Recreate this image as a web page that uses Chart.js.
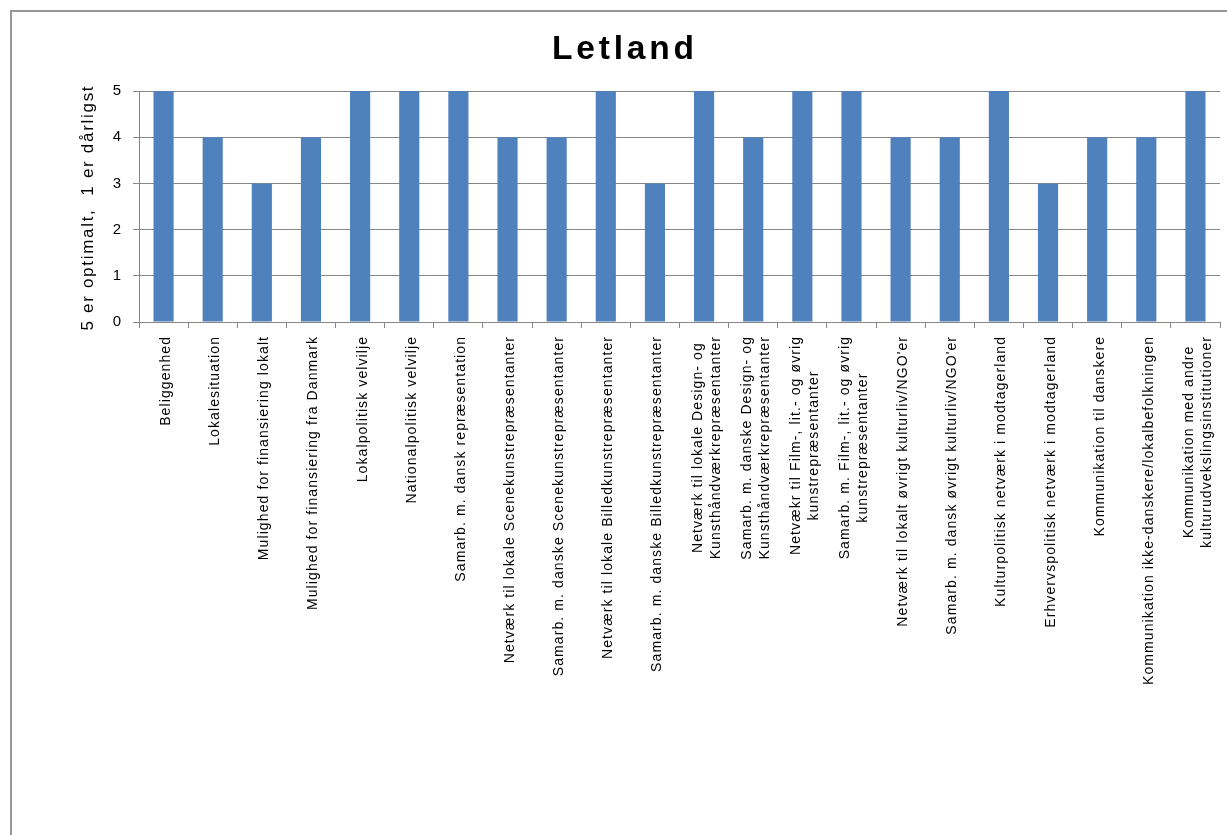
<!DOCTYPE html>
<html>
<head>
<meta charset="utf-8">
<script src="https://cdn.jsdelivr.net/npm/chart.js@4.4.1/dist/chart.umd.min.js"></script>
<style>
  html, body { margin: 0; padding: 0; background: #fff; overflow: hidden; width: 1227px; height: 835px; }
  #frame { position: absolute; left: 10px; top: 10px; width: 1400px; height: 1000px;
           border-left: 2px solid #969696; border-top: 2px solid #969696; }
  #c { position: absolute; left: 0; top: 0; }
</style>
</head>
<body>
<div id="frame"></div>
<canvas id="c" width="1227" height="835"></canvas>
<script>
// Chart text
const chartTitle = 'Letland';
const axisTitle = '5 er optimalt,  1 er dårligst';

// Categories (multi-line entries are split into lines)
const categories = [
  ['Beliggenhed'],
  ['Lokalesituation'],
  ['Mulighed for finansiering lokalt'],
  ['Mulighed for finansiering fra Danmark'],
  ['Lokalpolitisk velvilje'],
  ['Nationalpolitisk velvilje'],
  ['Samarb. m. dansk repræsentation'],
  ['Netværk til lokale Scenekunstrepræsentanter'],
  ['Samarb. m. danske Scenekunstrepræsentanter'],
  ['Netværk til lokale Billedkunstrepræsentanter'],
  ['Samarb. m. danske Billedkunstrepræsentanter'],
  ['Netværk til lokale Design- og', 'Kunsthåndværkrepræsentanter'],
  ['Samarb. m. danske Design- og', 'Kunsthåndværkrepræsentanter'],
  ['Netvækr til Film-, lit.- og øvrig', 'kunstrepræsentanter'],
  ['Samarb. m. Film-, lit.- og øvrig', 'kunstrepræsentanter'],
  ['Netværk til lokalt øvrigt kulturliv/NGO\'er'],
  ['Samarb. m. dansk øvrigt kulturliv/NGO\'er'],
  ['Kulturpolitisk netværk i modtagerland'],
  ['Erhvervspolitisk netværk i modtagerland'],
  ['Kommunikation til danskere'],
  ['Kommunikation ikke-danskere/lokalbefolkningen'],
  ['Kommunikation med andre', 'kulturudvekslingsinstitutioner']
];

// Scores (5 = best, 1 = worst)
const scores = [5, 4, 3, 4, 5, 5, 5, 4, 4, 5, 3, 5, 4, 5, 5, 4, 4, 5, 3, 4, 4, 5];

// Value axis ticks
const yTicks = [0, 1, 2, 3, 4, 5];

const GRID = '#868686';
const BAR = '#4F81BD';

// Letter-spaced text helpers
function spacedWidth(ctx, text, gap) {
  const chars = Array.from(text);
  let w = 0;
  for (const ch of chars) w += ctx.measureText(ch).width;
  return w + gap * (chars.length - 1);
}
function drawSpaced(ctx, text, x, y, gap) {
  let cx = x;
  for (const ch of Array.from(text)) {
    ctx.fillText(ch, cx, y);
    cx += ctx.measureText(ch).width + gap;
  }
}

// Draws the title, the value-axis title and the rotated category labels
const textPlugin = {
  id: 'spacedText',
  afterDraw(chart) {
    const ctx = chart.ctx;
    const area = chart.chartArea;
    const xs = chart.scales.x;
    ctx.save();
    ctx.fillStyle = '#000';
    ctx.textAlign = 'left';
    ctx.textBaseline = 'alphabetic';

    // title
    ctx.font = 'bold 33.5px "Liberation Sans", Arial, sans-serif';
    const tg = 3.8;
    const tw = spacedWidth(ctx, chartTitle, tg);
    drawSpaced(ctx, chartTitle, 623 - tw / 2, 59, tg);

    // value axis title
    ctx.font = '17px "Liberation Sans", Arial, sans-serif';
    const ag = 1.7;
    const aw = spacedWidth(ctx, axisTitle, ag);
    ctx.save();
    ctx.translate(92.5, (area.top + area.bottom) / 2 + 2);
    ctx.rotate(-Math.PI / 2);
    drawSpaced(ctx, axisTitle, -aw / 2, 0, ag);
    ctx.restore();

    // category labels, rotated, lines centred on each other
    ctx.font = '14px "Liberation Sans", Arial, sans-serif';
    const lg = 1.1;
    const lineGap = 18;
    const top = area.bottom + 15;
    categories.forEach((lines, i) => {
      const cx = xs.getPixelForValue(i);
      const widths = lines.map(t => spacedWidth(ctx, t, lg));
      const maxW = Math.max(...widths);
      lines.forEach((t, j) => {
        const bx = cx + 6.5 + (j - (lines.length - 1) / 2) * lineGap;
        ctx.save();
        ctx.translate(bx, top);
        ctx.rotate(-Math.PI / 2);
        drawSpaced(ctx, t, -maxW / 2 - widths[j] / 2, 0, lg);
        ctx.restore();
      });
    });
    ctx.restore();
  }
};

new Chart(document.getElementById('c'), {
  type: 'bar',
  data: {
    labels: categories,
    datasets: [{
      data: scores,
      backgroundColor: BAR,
      borderWidth: 0,
      barPercentage: 0.41,
      categoryPercentage: 1
    }]
  },
  options: {
    responsive: false,
    animation: false,
    events: [],
    layout: { padding: { top: 91, right: 7, bottom: 0, left: 0 } },
    plugins: {
      legend: { display: false },
      tooltip: { enabled: false },
      title: { display: false }
    },
    scales: {
      x: {
        grid: { display: true, drawOnChartArea: false, color: GRID, tickLength: 6, offset: true },
        border: { color: GRID, width: 1 },
        ticks: { display: false },
        afterFit(s) { s.height = 513; }
      },
      y: {
        min: 0,
        max: 5,
        grid: { color: GRID, tickLength: 6 },
        border: { color: GRID, width: 1 },
        ticks: {
          stepSize: 1,
          padding: 12,
          color: '#000',
          font: { family: '"Liberation Sans", Arial, sans-serif', size: 15 }
        },
        afterBuildTicks(s) { s.ticks = yTicks.map(v => ({ value: v })); },
        afterFit(s) { s.width = 139; }
      }
    }
  },
  plugins: [textPlugin]
});
</script>
</body>
</html>
